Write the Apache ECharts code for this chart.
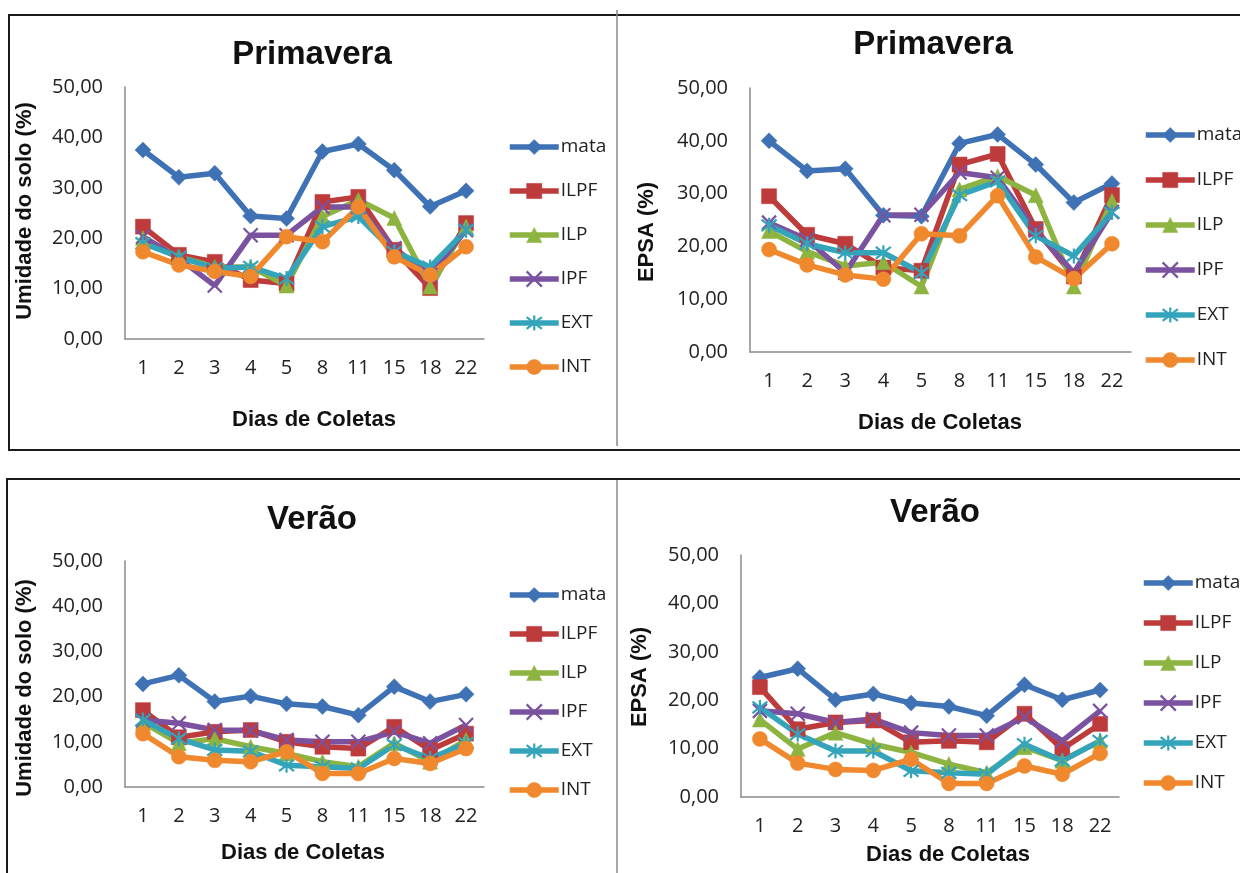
<!DOCTYPE html>
<html>
<head>
<meta charset="utf-8">
<script src="https://cdn.jsdelivr.net/npm/echarts@6/dist/echarts.min.js"></script>
<style>html,body{margin:0;padding:0;background:#fff}#c{width:1240px;height:873px}</style>
</head>
<body>
<div id="c"></div>
<script>
// ---- data ----
const categories = ['1','2','3','4','5','8','11','15','18','22'];
const seriesNames = ['mata','ILPF','ILP','IPF','EXT','INT'];
const panelTitles = ['Primavera','Primavera','Verão','Verão'];
const yNames = ['Umidade do solo (%)','EPSA (%)','Umidade do solo (%)','EPSA (%)'];
const xName = 'Dias de Coletas';
const yMin = 0, yMax = 50, yStep = 10;

// Primavera - Umidade do solo
const primUmid_mata = [37.5, 32.1, 32.9, 24.4, 23.9, 37.2, 38.7, 33.5, 26.3, 29.4];
const primUmid_ILPF = [22.3, 16.7, 15.3, 11.7, 11.0, 27.2, 28.2, 17.7, 10.1, 23.0];
const primUmid_ILP  = [20.0, 16.3, 14.3, 14.3, 10.6, 24.3, 27.6, 24.0, 10.4, 22.3];
const primUmid_IPF  = [20.3, 16.0, 10.6, 20.6, 20.6, 26.2, 26.2, 18.0, 12.7, 21.6];
const primUmid_EXT  = [19.0, 16.3, 14.0, 14.3, 12.0, 22.3, 24.3, 17.3, 14.3, 21.6];
const primUmid_INT  = [17.3, 14.7, 13.4, 12.4, 20.3, 19.3, 26.2, 16.3, 12.7, 18.3];
// Primavera - EPSA
const primEPSA_mata = [40.0, 34.3, 34.7, 25.9, 25.7, 39.5, 41.2, 35.5, 28.3, 31.9];
const primEPSA_ILPF = [29.5, 22.2, 20.5, 16.0, 15.4, 35.5, 37.5, 23.3, 14.3, 29.7];
const primEPSA_ILP  = [22.9, 19.0, 16.3, 17.0, 12.4, 30.8, 33.3, 29.7, 12.4, 28.6];
const primEPSA_IPF  = [24.5, 21.3, 15.0, 25.9, 26.0, 34.0, 33.0, 23.0, 15.0, 26.5];
const primEPSA_EXT  = [24.0, 20.5, 18.8, 18.8, 15.0, 29.7, 32.3, 22.0, 18.2, 26.4];
const primEPSA_INT  = [19.4, 16.5, 14.6, 13.8, 22.4, 22.0, 29.6, 18.0, 13.9, 20.5];
// Verão - Umidade do solo
const verUmid_mata = [22.8, 24.7, 18.9, 20.1, 18.4, 17.8, 15.9, 22.2, 18.9, 20.5];
const verUmid_ILPF = [17.0, 11.0, 12.2, 12.6, 10.0, 8.9, 8.5, 13.3, 8.2, 11.8];
const verUmid_ILP  = [14.3, 9.7, 10.7, 8.9, 7.4, 5.6, 4.5, 9.7, 5.6, 10.4];
const verUmid_IPF  = [14.8, 14.1, 12.6, 12.5, 10.4, 10.0, 10.0, 12.2, 9.7, 13.7];
const verUmid_EXT  = [14.8, 10.7, 8.2, 7.9, 4.8, 4.5, 4.1, 9.3, 6.3, 9.7];
const verUmid_INT  = [11.8, 6.7, 5.9, 5.6, 7.8, 3.0, 3.0, 6.3, 5.2, 8.5];
// Verão - EPSA
const verEPSA_mata = [24.7, 26.5, 20.1, 21.3, 19.4, 18.7, 16.8, 23.2, 20.1, 22.1];
const verEPSA_ILPF = [22.7, 14.0, 15.4, 15.8, 11.3, 11.6, 11.3, 17.2, 9.9, 15.1];
const verEPSA_ILP  = [16.0, 9.9, 13.3, 10.9, 9.2, 6.8, 5.0, 10.3, 7.5, 11.6];
const verEPSA_IPF  = [17.8, 17.2, 15.4, 16.1, 13.3, 12.7, 12.7, 16.5, 11.6, 17.8];
const verEPSA_EXT  = [18.5, 13.0, 9.5, 9.5, 5.4, 5.0, 4.7, 10.9, 7.5, 11.6];
const verEPSA_INT  = [12.0, 7.0, 5.7, 5.5, 7.8, 2.8, 2.8, 6.4, 4.7, 9.0];

const panelData = [
  [primUmid_mata, primUmid_ILPF, primUmid_ILP, primUmid_IPF, primUmid_EXT, primUmid_INT],
  [primEPSA_mata, primEPSA_ILPF, primEPSA_ILP, primEPSA_IPF, primEPSA_EXT, primEPSA_INT],
  [verUmid_mata, verUmid_ILPF, verUmid_ILP, verUmid_IPF, verUmid_EXT, verUmid_INT],
  [verEPSA_mata, verEPSA_ILPF, verEPSA_ILP, verEPSA_IPF, verEPSA_EXT, verEPSA_INT]
];

// ---- styles / layout ----
const colors = ['#3F72B5', '#BE3B3B', '#8DB440', '#7A52A0', '#34A4BB', '#F0892E'];
const symbols = ['diamond', 'rect', 'triangle',
  'path://M0,0L10,10M10,0L0,10',
  'path://M0,0L10,10M10,0L0,10M5,-1.5L5,11.5',
  'circle'];
const symbolSizes = [16, 15, 15, 14, 15, 15];
const strokeSym = [false, false, false, true, true, false];

const grids = [
  {left: 125, top: 87, width: 359, height: 252},
  {left: 750, top: 88, width: 381, height: 264},
  {left: 125, top: 561, width: 359, height: 226},
  {left: 741, top: 555, width: 378, height: 242}
];
const titlePos = [[312, 55], [933, 45], [312, 520], [935, 513]];
const yNamePos = [[25, 211], [647, 232], [25, 688], [640, 677]];
const xNamePos = [[314, 420], [940, 423], [303, 853], [948, 855]];
const legendPos = [
  {left: 507, top: 137, itemGap: 24},
  {left: 1143, top: 125, itemGap: 25},
  {left: 507, top: 585, itemGap: 19},
  {left: 1141, top: 573, itemGap: 20}
];

const fmt = v => v.toFixed(2).replace('.', ',');
const boldFont = "'Liberation Sans', Arial, sans-serif";
const lblFont = "'Open Sans', 'Noto Sans', sans-serif";

const option = {
  animation: false,
  backgroundColor: '#fff',
  grid: grids.map(g => Object.assign({containLabel: false}, g)),
  xAxis: grids.map((g, i) => ({
    type: 'category', gridIndex: i, data: categories, boundaryGap: true,
    axisLine: {lineStyle: {color: '#8a8a8a', width: 1.5}},
    axisTick: {show: false},
    axisLabel: {color: '#222', fontSize: 20, fontFamily: lblFont, margin: 19, interval: 0}
  })),
  yAxis: grids.map((g, i) => ({
    type: 'value', gridIndex: i, min: yMin, max: yMax, interval: yStep,
    axisLine: {show: true, lineStyle: {color: '#8a8a8a', width: 1.5}},
    axisTick: {show: false},
    splitLine: {show: false},
    axisLabel: {color: '#222', fontSize: 20, fontFamily: lblFont, margin: 22, formatter: fmt}
  })),
  title: titlePos.map((p, i) => ({
    text: panelTitles[i], left: p[0], top: p[1], textAlign: 'center', textVerticalAlign: 'middle',
    padding: 0,
    textStyle: {fontSize: 33, fontWeight: 'bold', fontFamily: boldFont, color: '#111'}
  })),
  legend: legendPos.map(lp => ({
    orient: 'vertical', left: lp.left, top: lp.top, itemGap: lp.itemGap, padding: 0,
    itemWidth: 49, itemHeight: 19, data: seriesNames, selectedMode: false,
    textStyle: {fontSize: 19, fontFamily: lblFont, color: '#222', lineHeight: 20, padding: [0, 0, 0, -3]},
    lineStyle: {width: 5.5},
    itemStyle: {borderWidth: 'inherit'}
  })),
  graphic: [
    {type: 'rect', shape: {x: 9, y: 15, width: 1260, height: 435}, style: {fill: 'none', stroke: '#1a1a1a', lineWidth: 2}, z: -1},
    {type: 'line', shape: {x1: 617, y1: 10, x2: 617, y2: 446}, style: {stroke: '#8a8a8a', lineWidth: 1.5}},
    {type: 'rect', shape: {x: 7, y: 479, width: 1260, height: 420}, style: {fill: 'none', stroke: '#1a1a1a', lineWidth: 2}, z: -1},
    {type: 'line', shape: {x1: 617, y1: 480, x2: 617, y2: 873}, style: {stroke: '#8a8a8a', lineWidth: 1.5}}
  ].concat(yNamePos.map((p, i) => ({
    type: 'text', x: p[0], y: p[1], rotation: Math.PI / 2,
    style: {text: yNames[i], fontSize: 22, fontWeight: 'bold', fontFamily: boldFont, fill: '#111',
      align: 'center', verticalAlign: 'middle'}
  }))).concat(xNamePos.map(p => ({
    type: 'text', x: p[0], y: p[1],
    style: {text: xName, fontSize: 22, fontWeight: 'bold', fontFamily: boldFont, fill: '#111',
      align: 'center', verticalAlign: 'middle'}
  }))),
  series: []
};

panelData.forEach((arrs, gi) => {
  arrs.forEach((vals, si) => {
    option.series.push({
      type: 'line', name: seriesNames[si], xAxisIndex: gi, yAxisIndex: gi,
      data: vals,
      symbol: symbols[si], symbolSize: symbolSizes[si], showAllSymbol: true,
      lineStyle: {color: colors[si], width: 5.5},
      itemStyle: strokeSym[si]
        ? {color: colors[si], borderColor: colors[si], borderWidth: 2.2}
        : {color: colors[si], borderColor: colors[si], borderWidth: 0.5},
      emphasis: {disabled: true}
    });
  });
});

const chart = echarts.init(document.getElementById('c'), null, {renderer: 'canvas'});
chart.setOption(option);
</script>
</body>
</html>
